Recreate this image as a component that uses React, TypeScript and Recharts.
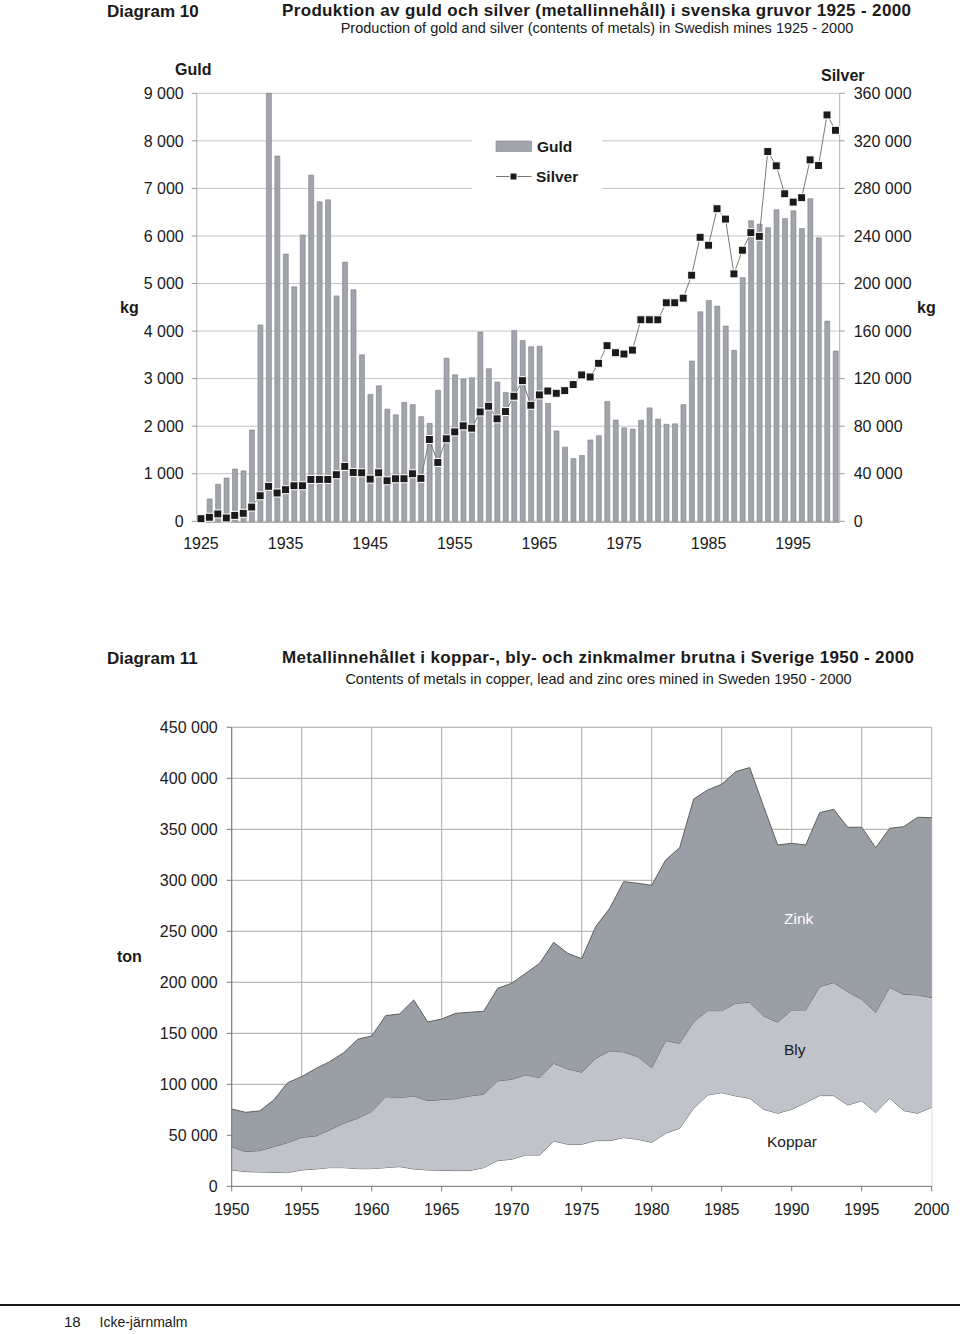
import React from "react";
import {
  ComposedChart, Bar, Line, XAxis, YAxis, CartesianGrid, Legend,
  AreaChart, Area,
} from "recharts";

const FONT = "'Liberation Sans', Arial, Helvetica, sans-serif";

// ---------- Diagram 10 data ----------
const goldYears: number[] = [
  1925, 1926, 1927, 1928, 1929, 1930, 1931, 1932, 1933, 1934, 1935, 1936, 1937, 1938, 1939,
  1940, 1941, 1942, 1943, 1944, 1945, 1946, 1947, 1948, 1949, 1950, 1951, 1952, 1953, 1954,
  1955, 1956, 1957, 1958, 1959, 1960, 1961, 1962, 1963, 1964, 1965, 1966, 1967, 1968, 1969,
  1970, 1971, 1972, 1973, 1974, 1975, 1976, 1977, 1978, 1979, 1980, 1981, 1982, 1983, 1984,
  1985, 1986, 1987, 1988, 1989, 1990, 1991, 1992, 1993, 1994, 1995, 1996, 1997, 1998, 1999, 2000,
];
const guldKg: number[] = [
  50, 470, 780, 910, 1100, 1060, 1920, 4130, 9000, 7680, 5620, 4930, 6020, 7280, 6720,
  6760, 4740, 5450, 4870, 3500, 2670, 2850, 2360, 2240, 2500, 2455, 2200, 2060, 2755, 3430,
  3080, 2990, 3020, 3980, 3210, 2930, 2710, 4010, 3800, 3670, 3680, 2480, 1900, 1560, 1320,
  1385, 1710, 1800, 2520, 2130, 1965, 1940, 2125, 2385, 2150, 2040, 2050, 2455, 3370, 4405,
  4645, 4525, 4105, 3595, 5125, 6320, 6250, 6175, 6550, 6365, 6530, 6155, 6785, 5960, 4210, 3580,
];
const silverKg: number[] = [
  2200, 3400, 6200, 2800, 5000, 6700, 12000, 21500, 29400, 23800, 26600, 29900, 29900, 35200, 35200,
  35200, 39200, 46200, 41100, 40800, 35500, 40800, 34100, 35800, 35800, 40000, 36100, 68800, 49500, 69400,
  75200, 80300, 78300, 92000, 96800, 86200, 92300, 105200, 118300, 97600, 106300, 109600, 107700, 109900, 115000,
  123100, 121400, 132900, 147700, 141800, 140700, 144000, 169500, 169500, 169500, 183800, 183800, 187700, 207000, 238900,
  232200, 262900, 254200, 208100, 228000, 242800, 239700, 311000, 299000, 275500, 268500, 272200, 304000, 299300, 341800, 328900,
];
const guldTicks: number[] = [0, 1000, 2000, 3000, 4000, 5000, 6000, 7000, 8000, 9000];
const silverTicks: number[] = [0, 40000, 80000, 120000, 160000, 200000, 240000, 280000, 320000, 360000];
const yearBoundaryTicks: number[] = [1924.5, 1929.5, 1934.5, 1939.5, 1944.5, 1949.5, 1954.5, 1959.5, 1964.5, 1969.5, 1974.5, 1979.5, 1984.5, 1989.5, 1994.5, 1999.5];

// ---------- Diagram 11 data ----------
const metalYears: number[] = [
  1950, 1951, 1952, 1953, 1954, 1955, 1956, 1957, 1958, 1959, 1960, 1961, 1962, 1963, 1964,
  1965, 1966, 1967, 1968, 1969, 1970, 1971, 1972, 1973, 1974, 1975, 1976, 1977, 1978, 1979,
  1980, 1981, 1982, 1983, 1984, 1985, 1986, 1987, 1988, 1989, 1990, 1991, 1992, 1993, 1994,
  1995, 1996, 1997, 1998, 1999, 2000,
];
const kopparTon: number[] = [
  16000, 14400, 14050, 13700, 13400, 16000, 17000, 18300, 18300, 17300, 17300, 18300, 19300, 17000, 16000,
  15700, 15400, 15400, 18300, 25200, 26500, 30700, 30700, 44400, 41200, 41200, 44800, 44800, 47700, 46100,
  43100, 52000, 56900, 76500, 89500, 91800, 88600, 86300, 75500, 71600, 75500, 82000, 88900, 88900, 79700,
  83700, 72200, 86300, 74200, 71600, 77500,
];
const blyTon: number[] = [
  22900, 19600, 20950, 25200, 29400, 32000, 32300, 36900, 43500, 49400, 55900, 69600, 67600, 71600, 68000,
  69300, 70500, 73200, 71900, 78100, 78400, 78500, 75800, 76200, 73800, 70600, 80700, 87900, 84000, 81000,
  73200, 90800, 83300, 84900, 82700, 80400, 90800, 94100, 91500, 89200, 97400, 90900, 106900, 110800, 111200,
  99600, 98400, 108800, 114000, 116000, 107500,
];
const zinkTon: number[] = [
  36900, 38500, 38900, 45700, 58800, 59500, 66100, 67000, 69200, 77400, 74200, 79400, 82100, 94100, 77100,
  79000, 83700, 82000, 81400, 90800, 94100, 99600, 112100, 118600, 113400, 111400, 129100, 139800, 167000, 170000,
  178800, 177200, 191800, 218300, 216400, 221900, 227100, 230100, 205200, 173800, 163400, 161700, 170500, 169900, 161100,
  168700, 161400, 155900, 164400, 174200, 176400,
];
const metalYTicks: number[] = [0, 50000, 100000, 150000, 200000, 250000, 300000, 350000, 400000, 450000];
const metalXTicks: number[] = [1950, 1955, 1960, 1965, 1970, 1975, 1980, 1985, 1990, 1995, 2000];

const topData = goldYears.map((year, i) => ({ year, guld: guldKg[i], silver: silverKg[i] }));
const bottomData = metalYears.map((year, i) => ({ year, koppar: kopparTon[i], bly: blyTon[i], zink: zinkTon[i] }));

const fmt = (n: number) => String(n).replace(/\B(?=(\d{3})+(?!\d))/g, " ");

const BAR_FILL = "#a1a4aa";
const BAR_STROKE = "#7f828a";

const SilverDot = (props: any) => {
  const { cx, cy, index } = props;
  if (cx == null || cy == null) return <g key={`d${index}`} />;
  return (
    <rect key={`d${index}`} x={cx - 4} y={cy - 4} width={8} height={8} fill="#1b1b1b" stroke="#ffffff" strokeWidth={1} />
  );
};

const LegendBox = () => (
  <svg width={130} height={66} style={{ display: "block" }}>
    <rect x={0} y={0} width={130} height={66} fill="#fff" />
    <rect x={24} y={13} width={35.5} height={10.5} fill={BAR_FILL} stroke={BAR_STROKE} strokeWidth={0.6} />
    <text x={65} y={23.7} fontFamily={FONT} fontWeight="bold" fontSize={15.5} fill="#1a1a1a">Guld</text>
    <line x1={24} y1={48.5} x2={59.5} y2={48.5} stroke="#777" strokeWidth={1} />
    <rect x={38} y={45} width={7} height={7} fill="#1b1b1b" stroke="#fff" strokeWidth={1} />
    <text x={64} y={53.7} fontFamily={FONT} fontWeight="bold" fontSize={15.5} fill="#1a1a1a">Silver</text>
  </svg>
);

const tickStyle = { fontSize: 16, fill: "#1a1a1a", fontFamily: FONT };

export default function App() {
  return (
    <div style={{ position: "absolute", left: 0, top: 0, width: 960, height: 1334, background: "#fff", fontFamily: FONT }}>
      {/* Diagram 10 */}
      <div style={{ position: "absolute", left: 0, top: 0 }}>
        <ComposedChart
          width={960}
          height={600}
          data={topData}
          margin={{ top: 93.3, left: 136.7, right: 60.3, bottom: 76.7 }}
          barCategoryGap={0}
        >
          <CartesianGrid yAxisId="left" xAxisId="cat" vertical={false} stroke="#c4c4c4" strokeWidth={1} />
          <XAxis
            xAxisId="num"
            type="number"
            dataKey="year"
            domain={[1924.5, 2000.5]}
            allowDataOverflow
            ticks={yearBoundaryTicks}
            tick={false}
            tickSize={5}
            tickLine={{ stroke: "#9a9a9a" }}
            axisLine={{ stroke: "#9a9a9a" }}
            height={1}
          />
          <XAxis
            xAxisId="cat"
            dataKey="year"
            type="category"
            interval={9}
            tickLine={false}
            tickSize={0}
            tickMargin={16}
            axisLine={false}
            tick={tickStyle}
            height={1}
          />
          <YAxis
            yAxisId="left"
            orientation="left"
            domain={[0, 9000]}
            ticks={guldTicks}
            tickFormatter={fmt}
            width={60}
            tickSize={5}
            tickMargin={8}
            axisLine={{ stroke: "#b0b0b0" }}
            tickLine={{ stroke: "#9a9a9a" }}
            tick={tickStyle}
            interval={0}
          />
          <YAxis
            yAxisId="right"
            orientation="right"
            domain={[0, 360000]}
            ticks={silverTicks}
            tickFormatter={fmt}
            width={60}
            tickSize={5}
            tickMargin={9}
            axisLine={{ stroke: "#b0b0b0" }}
            tickLine={{ stroke: "#9a9a9a" }}
            tick={tickStyle}
            interval={0}
          />
          <Legend
            layout="horizontal"
            verticalAlign="middle"
            align="center"
            content={() => <LegendBox />}
            wrapperStyle={{ position: "absolute", left: 472, top: 128, width: 130, height: 66 }}
          />
          <Bar
            xAxisId="cat"
            yAxisId="left"
            dataKey="guld"
            name="Guld"
            fill={BAR_FILL}
            stroke={BAR_STROKE}
            strokeWidth={0.6}
            barSize={5}
            isAnimationActive={false}
          />
          <Line
            xAxisId="cat"
            yAxisId="right"
            dataKey="silver"
            name="Silver"
            type="linear"
            stroke="#7a7a7a"
            strokeWidth={1}
            dot={SilverDot}
            activeDot={false}
            isAnimationActive={false}
          />
        </ComposedChart>
      </div>

      {/* Diagram 11 */}
      <div style={{ position: "absolute", left: 0, top: 700 }}>
        <AreaChart
          width={960}
          height={540}
          data={bottomData}
          margin={{ top: 27.3, left: 171.7, right: 28.3, bottom: 23.7 }}
        >
          <CartesianGrid stroke="#a9a9a9" strokeWidth={1} />
          <XAxis
            dataKey="year"
            type="number"
            domain={[1950, 2000]}
            ticks={metalXTicks}
            interval={0}
            height={30}
            tickSize={5}
            tickMargin={12}
            axisLine={{ stroke: "#7a7a7a" }}
            tickLine={{ stroke: "#7a7a7a" }}
            tick={tickStyle}
          />
          <YAxis
            domain={[0, 450000]}
            ticks={metalYTicks}
            tickFormatter={fmt}
            interval={0}
            width={60}
            tickSize={5}
            tickMargin={9}
            axisLine={{ stroke: "#7a7a7a" }}
            tickLine={{ stroke: "#7a7a7a" }}
            tick={tickStyle}
          />
          <Area dataKey="koppar" name="Koppar" stackId="m" type="linear" fill="#ffffff" fillOpacity={1} stroke="#5e5e5e" strokeWidth={1} isAnimationActive={false} />
          <Area dataKey="bly" name="Bly" stackId="m" type="linear" fill="#c0c3c9" fillOpacity={1} stroke="#5e5e5e" strokeWidth={1} isAnimationActive={false} />
          <Area dataKey="zink" name="Zink" stackId="m" type="linear" fill="#9a9ea5" fillOpacity={1} stroke="#5e5e5e" strokeWidth={1} isAnimationActive={false} />
        </AreaChart>
      </div>

      {/* Page texts */}
      <svg width={960} height={1334} style={{ position: "absolute", left: 0, top: 0, pointerEvents: "none" }}>
        <g fontFamily={FONT} fill="#1a1a1a">
          <text x={107} y={17.3} fontSize={17} fontWeight="bold">Diagram 10</text>
          <text x={282} y={16} fontSize={17} fontWeight="bold" textLength={629}>Produktion av guld och silver (metallinnehåll) i svenska gruvor 1925 - 2000</text>
          <text x={597} y={33.3} fontSize={14.5} textAnchor="middle">Production of gold and silver (contents of metals) in Swedish mines 1925 - 2000</text>
          <text x={175} y={75} fontSize={16} fontWeight="bold">Guld</text>
          <text x={821} y={81} fontSize={16} fontWeight="bold">Silver</text>
          <text x={120} y={313} fontSize={16} fontWeight="bold">kg</text>
          <text x={917} y={313} fontSize={16} fontWeight="bold">kg</text>

          <text x={107} y={664.3} fontSize={17} fontWeight="bold">Diagram 11</text>
          <text x={282} y={663.3} fontSize={17} fontWeight="bold" textLength={632}>Metallinnehållet i koppar-, bly- och zinkmalmer brutna i Sverige 1950 - 2000</text>
          <text x={598.5} y={684.3} fontSize={14.5} textAnchor="middle">Contents of metals in copper, lead and zinc ores mined in Sweden 1950 - 2000</text>
          <text x={117} y={962} fontSize={16} fontWeight="bold">ton</text>
          <text x={784} y={924.3} fontSize={15.5} fill="#ffffff">Zink</text>
          <text x={784} y={1055} fontSize={15.5}>Bly</text>
          <text x={792} y={1146.7} fontSize={15.5} textAnchor="middle">Koppar</text>

          <line x1={0} y1={1305} x2={960} y2={1305} stroke="#1a1a1a" strokeWidth={2} />
          <text x={64} y={1327} fontSize={15}>18</text>
          <text x={99.5} y={1327} fontSize={14}>Icke-järnmalm</text>
        </g>
      </svg>
    </div>
  );
}
